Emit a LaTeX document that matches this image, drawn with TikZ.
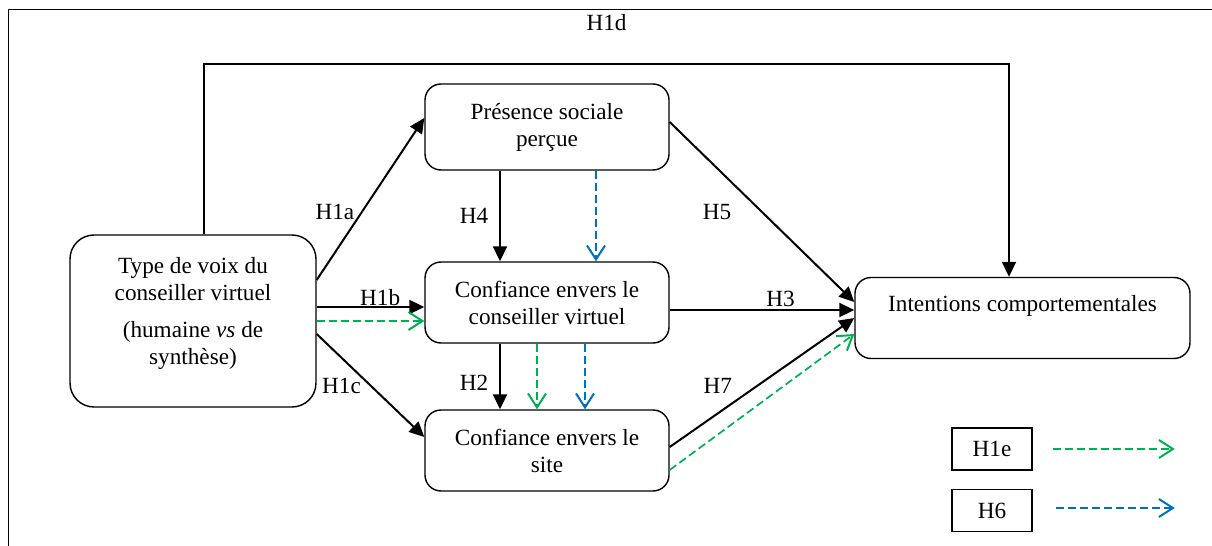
\documentclass[tikz,border=0pt]{standalone}
\usepackage{fontspec}
\setmainfont{Liberation Serif}
\usetikzlibrary{positioning, arrows.meta}
\definecolor{hgreen}{RGB}{0,176,80}
\definecolor{hblue}{RGB}{0,112,192}
\tikzset{every node/.style={font=\fontsize{11.6}{13.5}\selectfont},
  var/.style={draw, line width=0.7pt, rounded corners=8pt, minimum width=122pt, minimum height=40.5pt, align=center},
  hyp/.style={line width=1pt, -{Triangle[length=7.5pt, width=7pt]}},
  medgreen/.style={hgreen, line width=0.85pt, dash pattern=on 4pt off 2pt, -{Straight Barb[length=7pt, width=9pt, line width=1pt]}},
  medblue/.style={medgreen, hblue},
  legendbox/.style={draw, line width=0.8pt, minimum width=40pt, minimum height=21pt}}

\begin{document}
\begin{tikzpicture}[x=0.5pt, y=-0.5pt]
	\useasboundingbox (0,0) rectangle (1212,546);
	\draw[line width=0.5pt] (8,546) -- (8,9) -- (1212,9);

	\node[var, minimum height=43pt] (pres) at (547,127) {Présence sociale\\perçue};
	\node[var, node distance=87.75pt, below of=pres] (cv) {Confiance envers le\\conseiller virtuel};
	\node[var, node distance=74pt, below of=cv] (site) {Confiance envers le\\site};
	\node[var, minimum width=123pt, minimum height=86pt, rounded corners=12pt] (type) at (193,321) {};
	\node[align=center] (typetext) at (193,313) {Type de voix du\\conseiller virtuel\\[5pt](humaine \textit{vs} de\\synthèse)};
	\node[var, minimum width=167.5pt, text height=8pt, text depth=14.5pt] (intent) at (1022.5,318) {Intentions comportementales};
	\node[legendbox] (h1e) at (992,449) {H1e};
	\node[legendbox] (h6) at (992,510.5) {H6};

	\draw[hyp] ([xshift=5.5pt]type.north) -- ++(0,-170) -| node[pos=0.25, above, yshift=13pt]{H1d} ([xshift=-6.75pt]intent.north);
	\draw
		([yshift=20.5pt]type.east) edge[hyp] node[pos=0.42, left]{H1a} ([yshift=4.5pt]pres.west)
		([yshift=7pt]type.east) edge[hyp] node[pos=0.59, above, inner sep=0pt]{H1b} ([yshift=7pt]type.east -| cv.west)
		([yshift=-6.5pt]type.east) edge[hyp] node[pos=0.42, below left, inner sep=0pt]{H1c} ([yshift=6.75pt]site.west)
		([xshift=-23.5pt]pres.south) edge[hyp] node[left, xshift=-2pt]{H4} ([xshift=-23.5pt]cv.north)
		([xshift=-23.5pt]cv.south) edge[hyp] node[pos=0.6, left, xshift=-2pt]{H2} ([xshift=-23.5pt]site.north)
		([yshift=2.5pt]pres.east) edge[hyp] node[left, xshift=-11.5pt]{H5} ([yshift=8pt]intent.west)
		([yshift=-3.75pt]cv.east) edge[hyp] node[pos=0.6, above, inner sep=0pt, yshift=1pt]{H3} ([yshift=-3.75pt]cv.east -| intent.west)
		([yshift=1.75pt]site.east) edge[hyp] node[pos=0.26, above, yshift=6pt]{H7} (intent.west)
		(type.east) edge[medgreen] (type.east -| cv.west)
		([xshift=-5pt]cv.south) edge[medgreen] ([xshift=-5pt]site.north)
		([yshift=-9.75pt]site.east) edge[medgreen] ([yshift=-8pt]intent.west)
		([xshift=24.5pt]pres.south) edge[medblue] ([xshift=24.5pt]cv.north)
		([xshift=19pt]cv.south) edge[medblue] ([xshift=19pt]site.north)
		([xshift=10pt]h1e.east) edge[medgreen] ([xshift=71pt]h1e.east)
		([xshift=11.5pt, yshift=1.25pt]h6.east) edge[medblue] ([xshift=71pt, yshift=1.25pt]h6.east);
\end{tikzpicture}
\end{document}
